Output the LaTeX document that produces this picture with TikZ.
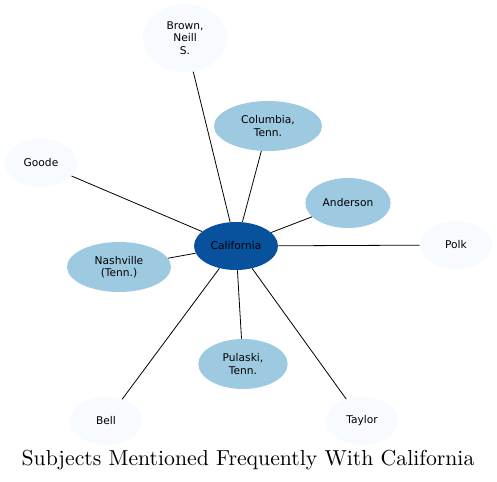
\documentclass[tikz,border=0pt]{standalone}
\usepackage{fontspec}
\usepackage{xcolor}
\usetikzlibrary{shapes.geometric}
\newfontfamily\labelfont{DejaVu Sans}
\newfontfamily\titlefont{lmroman10-regular.otf}
\definecolor{hubblue}{HTML}{08519C}
\definecolor{midblue}{HTML}{9ECAE1}
\definecolor{paleblue}{HTML}{F7FBFF}

\begin{document}
\begin{tikzpicture}[x=0.75pt, y=-0.75pt,
        subject/.style={ellipse, inner sep=0pt, align=center,
            font=\labelfont\fontsize{8}{9.2}\selectfont},
        hub/.style={subject, fill=hubblue, minimum width=63pt, minimum height=36pt},
        near/.style={subject, fill=midblue, minimum height=37.5pt},
        far/.style={subject, fill=paleblue, minimum width=54pt, minimum height=36pt},
        link/.style={draw=black, line width=0.6pt}]
    \useasboundingbox (0,0) rectangle (497,482);

    \node[hub] (cal) at (236,246) {California};
    \node[far, minimum width=63pt, minimum height=51pt] (brown) at (185,38) {Brown,\\Neill\\S.};
    \node[near, minimum width=81pt] (columbia) at (268,126) {Columbia,\\Tenn.};
    \node[far] (goode) at (41,163) {Goode};
    \node[near, minimum width=64pt] (anderson) at (348,203) {Anderson};
    \node[far] (polk) at (456,245) {Polk};
    \node[near, minimum width=78pt] (nashville) at (119,267) {Nashville\\(Tenn.)};
    \node[near, minimum width=67pt] (pulaski) at (243,364) {Pulaski,\\Tenn.};
    \node[far] (bell) at (106,421) {Bell};
    \node[far] (taylor) at (362,421) {Taylor};

    % spokes from the hub
    \foreach \n in {brown, columbia, goode, anderson, polk, nashville, pulaski, bell, taylor}
        \draw[link] (cal) -- (\n);

    \node[font=\titlefont\fontsize{16.3}{19}\selectfont] (title) at (248,460) {Subjects Mentioned Frequently With California};
\end{tikzpicture}
\end{document}
